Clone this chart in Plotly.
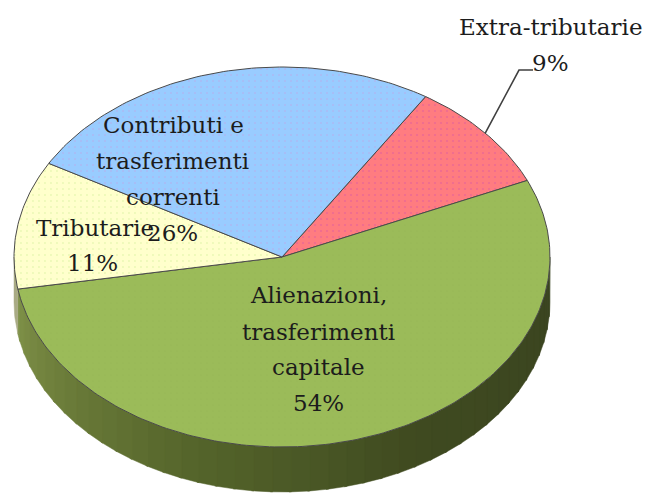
import math
import plotly.graph_objects as go

# Data
labels = ["Extra-tributarie", "Alienazioni, trasferimenti capitale", "Tributarie", "Contributi e trasferimenti correnti"]
values = [9.4, 53.9, 10.9, 25.8]

# Style
colors = ["#FF7C80", "#9BBB59", "#FFFFCC", "#99CCFF"]
dot_colors = ["#EE6A92", "#94B455", "#EAF8B4", "#ADB8F2"]
dot_solidity = [0.10, 0.03, 0.08, 0.07]
side_stops = [(90, "#3A4420"), (150, "#3F4A20"), (200, "#55652B"), (235, "#6C7D3A"), (260.4, "#7F9149")]
START = 32.4
CX, CY, RX, RY, DEPTH = 282, 257, 268, 190, 45
W, H = 649, 494
FONT = "DejaVu Serif"
FS = 23
TXT = "#1c1c1c"


def pt(a, dy=0):
    r = math.radians(a)
    return CX + RX * math.sin(r), CY - RY * math.cos(r) + dy


def arc(a0, a1, dy=0):
    n = max(2, int(abs(a1 - a0)) + 2)
    return [pt(a0 + (a1 - a0) * i / (n - 1), dy) for i in range(n)]


def hex2(c):
    return [int(c[i:i + 2], 16) for i in (1, 3, 5)]


def side_color(a):
    for (a0, c0), (a1, c1) in zip(side_stops, side_stops[1:]):
        if a0 <= a <= a1:
            t = (a - a0) / (a1 - a0)
            v = [round(x + (y - x) * t) for x, y in zip(hex2(c0), hex2(c1))]
            return "rgb(%d,%d,%d)" % tuple(v)
    return side_stops[-1][1]


fig = go.Figure()

# Side wall, split in bands to give the shading
angles = []
a = START
for v in values:
    angles.append((a, a + v * 3.6))
    a += v * 3.6

g0, g1 = 90, angles[1][1]
band = 4
b = g0
while b < g1:
    e = min(b + band + 0.5, g1)
    poly = arc(b, e) + arc(e, b, DEPTH)
    fig.add_trace(go.Scatter(x=[p[0] for p in poly] + [poly[0][0]], y=[p[1] for p in poly] + [poly[0][1]],
                             mode="lines", fill="toself", fillcolor=side_color(min(b + band / 2, g1)),
                             line=dict(width=0.5, color=side_color(min(b + band / 2, g1))), hoverinfo="skip"))
    b += band
poly = arc(g1, 270) + arc(270, g1, DEPTH)
fig.add_trace(go.Scatter(x=[p[0] for p in poly] + [poly[0][0]], y=[p[1] for p in poly] + [poly[0][1]],
                         mode="lines", fill="toself", fillcolor="#A9AB84", line=dict(width=0.5, color="#A9AB84"),
                         hoverinfo="skip"))

# Top face wedges
for i, (a0, a1) in enumerate(angles):
    poly = [(CX, CY)] + arc(a0, a1) + [(CX, CY)]
    fig.add_trace(go.Scatter(x=[p[0] for p in poly], y=[p[1] for p in poly], mode="lines", fill="toself",
                             fillcolor=colors[i],
                             fillpattern=dict(shape=".", size=6, solidity=dot_solidity[i], fgcolor=dot_colors[i],
                                              bgcolor=colors[i], fillmode="replace"),
                             line=dict(color="#4a4a4a", width=1), hoverinfo="skip", name=labels[i]))

# Leader line for the outside label
lead = [pt(sum(angles[0]) / 2), (519, 70), (533, 70)]
fig.add_trace(go.Scatter(x=[p[0] for p in lead], y=[p[1] for p in lead], mode="lines",
                         line=dict(color="#404040", width=1.6), hoverinfo="skip"))


def pct(i):
    return "%d%%" % round(values[i])


text_lines = [
    ("Extra-tributarie", 551, 27), (pct(0), 550, 63),
    ("Alienazioni,", 318, 295), ("trasferimenti", 318, 332), ("capitale", 318, 367), (pct(1), 318, 403),
    ("Tributarie", 95, 228), (pct(2), 92, 263),
    ("Contributi e", 173, 125), ("trasferimenti", 172, 161), ("correnti", 173, 197), (pct(3), 172, 233),
]
for t, x, y in text_lines:
    fig.add_annotation(x=x, y=y, text=t, showarrow=False, xanchor="center", yanchor="middle",
                       font=dict(family=FONT, size=FS, color=TXT))

fig.update_layout(width=W, height=H, margin=dict(l=0, r=0, t=0, b=0), showlegend=False,
                  paper_bgcolor="white", plot_bgcolor="white",
                  xaxis=dict(range=[0, W], visible=False, fixedrange=True),
                  yaxis=dict(range=[H, 0], visible=False, fixedrange=True))
fig.write_html("out.html", config=dict(displayModeBar=False),
               post_script="document.body.style.margin='0';document.body.style.overflow='hidden';")
